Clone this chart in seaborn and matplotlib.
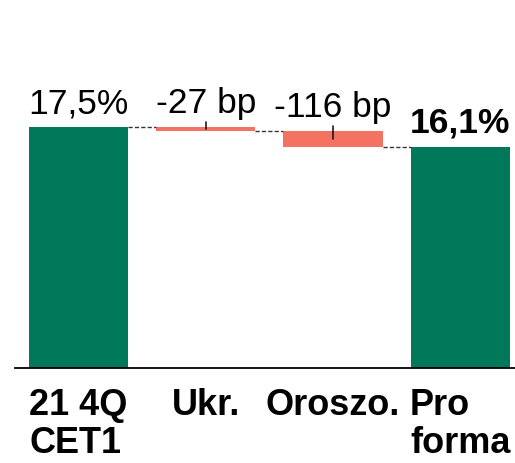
import numpy as np
import pandas as pd
import matplotlib
matplotlib.use("Agg")
import matplotlib.pyplot as plt
import seaborn as sns

# CET1 ratio bridge: starting level, two impacts, pro forma level
categories = ["21 4Q\nCET1", "Ukr.", "Oroszo.", "Pro\nforma"]
kinds = ["total", "change", "change", "total"]
values = [17.5, -0.27, -1.16, 16.1]          # % for totals, %-points for changes
total_labels = ["17,5%", None, None, "16,1%"]

GREEN = "#00785A"
SALMON = "#F47261"

sns.set_theme(style="white")
plt.rcParams["font.family"] = ["Liberation Sans", "DejaVu Sans"]

# floating bar geometry derived from the values
level = 0.0
bottoms, heights, tops = [], [], []
for kind, v in zip(kinds, values):
    if kind == "total":
        level = v
        bottoms.append(0.0)
        heights.append(v)
        tops.append(v)
    else:
        new_level = level + v
        bottoms.append(new_level)
        heights.append(-v)
        tops.append(level)
        level = new_level
ends = [b + h if k == "total" else b for k, b, h in zip(kinds, bottoms, heights)]

df = pd.DataFrame({"cat": categories, "height": heights})

fig = plt.figure(figsize=(5.15, 4.63), dpi=100)
ax = fig.add_axes([15 / 515, 95 / 463, 500 / 515, 275 / 463])

width = 0.78
sns.barplot(data=df, x="cat", y="height", bottom=bottoms, width=width,
            errorbar=None, ax=ax, color=GREEN, saturation=1, linewidth=0)
for patch, kind in zip(ax.patches, kinds):
    patch.set_facecolor(GREEN if kind == "total" else SALMON)
    patch.set_edgecolor("none")

# dashed connectors between consecutive bars
for i in range(len(categories) - 1):
    y = ends[i]
    ax.plot([i + width / 2, i + 1 - width / 2], [y, y], ls=(0, (3, 1.6)),
            color="#333333", lw=1.0, zorder=1)

# value labels
for i, (kind, v) in enumerate(zip(kinds, values)):
    if kind == "total":
        txt = total_labels[i]
        weight = "bold" if i == len(categories) - 1 else "normal"
    else:
        txt = f"{int(round(v * 100))} bp"
        weight = "normal"
        # short leader from label into the bar
        ax.plot([i, i], [tops[i] + 0.4, tops[i] - heights[i] / 2],
                color="#1a1a1a", lw=1.2, zorder=3)
    ax.annotate(txt, (i, tops[i]), xytext=(0, 14), textcoords="offset pixels",
                ha="center", va="baseline", fontsize=25.5, fontweight=weight,
                color="black")

ax.set_xlim(-0.5, 3.43)
ax.set_ylim(0, 20)
ax.set_xlabel("")
ax.set_ylabel("")
ax.set_yticks([])
for side in ["top", "right", "left"]:
    ax.spines[side].set_visible(False)
ax.spines["bottom"].set_color("black")
ax.spines["bottom"].set_linewidth(1.3)
ax.tick_params(axis="x", length=0, pad=14.5)
for lab in ax.get_xticklabels():
    lab.set_fontsize(26)
    lab.set_fontweight("bold")
    lab.set_multialignment("left")
    lab.set_linespacing(1.12)
    lab.set_color("black")

fig.savefig("out.png", dpi=100)
